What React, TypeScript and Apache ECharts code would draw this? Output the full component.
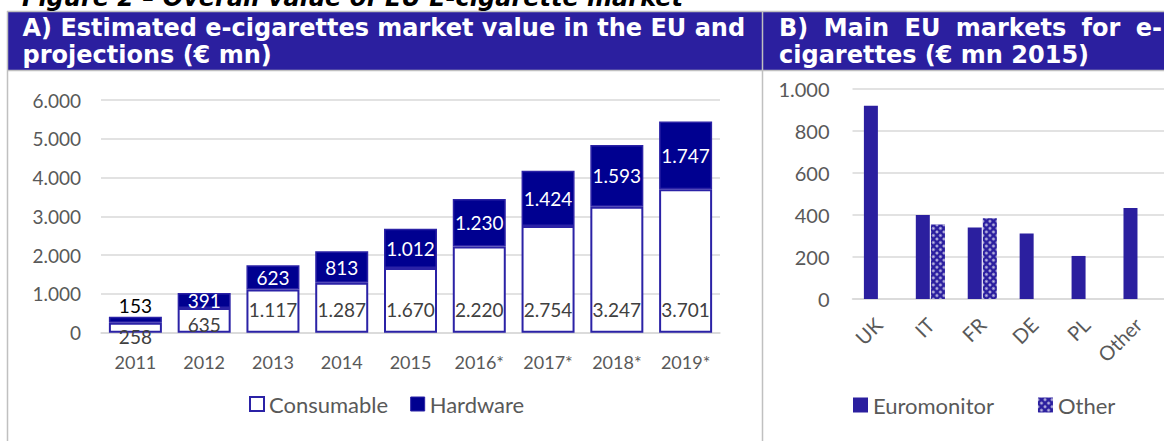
import React, { useEffect, useRef } from 'react';
import * as echarts from 'echarts';

const years = ['2011', '2012', '2013', '2014', '2015', '2016*', '2017*', '2018*', '2019*'];
const consumable = [258, 635, 1117, 1287, 1670, 2220, 2754, 3247, 3701];
const hardware = [153, 391, 623, 813, 1012, 1230, 1424, 1593, 1747];

const markets = ['UK', 'IT', 'FR', 'DE', 'PL', 'Other'];
const euromonitor = [920, 400, 340, 312, 205, 433];
const otherSource = [null, 355, 385, null, null, null];

const figureTitle = 'Figure 2 \u2013 Overall value of EU E-cigarette market';
const titleA = ['A) Estimated e-cigarettes market value in the EU and', 'projections (\u20ac mn)'];
const titleBLine1 = ['B)', 'Main', 'EU', 'markets', 'for', 'e-'];
const titleBLine2 = 'cigarettes (\u20ac mn 2015)';

const fmt = (v: number) => String(v).replace(/\B(?=(\d{3})+(?!\d))/g, '.');

export default function App() {
  const ref = useRef<HTMLDivElement>(null);
  useEffect(() => {
    const chart = echarts.init(ref.current!, null, { renderer: 'svg' });
    const font = 'Lato';
    const gray = '#595959';
    const band = '#2B1F9F';
    const navy = '#000090';
    const edge = '#2B22A6';
    const lineGray = '#C0C0C0';
    const titleFont = 'DejaVu Sans';
    const tf = `bold 24px "${titleFont}"`;

    // justify line 1 of title B between x=779 and x=1162
    const ctx = document.createElement('canvas').getContext('2d')!;
    ctx.font = tf;
    const widths = titleBLine1.map((w) => ctx.measureText(w).width);
    const total = widths.reduce((a, b) => a + b, 0);
    const startX = 779;
    const endX = 1162;
    const gap = (endX - startX - total) / (titleBLine1.length - 1);
    const bWordX: number[] = [];
    let cx = startX;
    widths.forEach((w) => {
      bWordX.push(cx);
      cx += w + gap;
    });

    const consumableData = consumable.map((v, i) => {
      if (i === 0) return { value: v, label: { position: 'bottom', distance: -6 } };
      if (i === 1) return { value: v, label: { distance: -1 } };
      return v;
    });
    const hardwareData = hardware.map((v, i) => {
      if (i === 0) return { value: v, label: { position: 'top', distance: 2, color: '#000' } };
      return v;
    });

    const option: any = {
      animation: false,
      backgroundColor: '#fff',
      textStyle: { fontFamily: font },
      graphic: [
        {
          type: 'text', x: 22, y: -2.5, z: 50,
          style: { text: figureTitle, fill: '#000', font: `italic bold 24px "${titleFont}"`, textAlign: 'left', textVerticalAlign: 'middle' },
        },
        { type: 'rect', z: 40, shape: { x: 8, y: 12, width: 1156, height: 58 }, style: { fill: band } },
        { type: 'line', z: 45, shape: { x1: 7, y1: 11.5, x2: 1164, y2: 11.5 }, style: { stroke: lineGray, lineWidth: 1.5 } },
        { type: 'line', z: 45, shape: { x1: 7, y1: 70.5, x2: 1164, y2: 70.5 }, style: { stroke: lineGray, lineWidth: 1.5 } },
        { type: 'line', z: 45, shape: { x1: 7.5, y1: 11, x2: 7.5, y2: 441 }, style: { stroke: lineGray, lineWidth: 1.5 } },
        { type: 'line', z: 45, shape: { x1: 762.5, y1: 11, x2: 762.5, y2: 441 }, style: { stroke: lineGray, lineWidth: 1.5 } },
        {
          type: 'text', x: 22.5, y: 27.5, z: 50,
          style: { text: titleA[0], fill: '#fff', font: tf, textAlign: 'left', textVerticalAlign: 'middle' },
        },
        {
          type: 'text', x: 22.5, y: 55, z: 50,
          style: { text: titleA[1], fill: '#fff', font: tf, textAlign: 'left', textVerticalAlign: 'middle' },
        },
        ...titleBLine1.map((w, i) => ({
          type: 'text', x: bWordX[i], y: 27.5, z: 50,
          style: { text: w, fill: '#fff', font: tf, textAlign: 'left', textVerticalAlign: 'middle' },
        })),
        {
          type: 'text', x: 779, y: 55, z: 50,
          style: { text: titleBLine2, fill: '#fff', font: tf, textAlign: 'left', textVerticalAlign: 'middle' },
        },
      ],
      legend: [
        {
          data: [
            { name: 'Consumable', itemStyle: { color: '#fff', borderColor: edge, borderWidth: 2 } },
            { name: 'Hardware', itemStyle: { color: navy, borderColor: edge, borderWidth: 1 } },
          ],
          left: 249, top: 393, padding: 0, itemWidth: 14, itemHeight: 14, itemGap: 22, icon: 'rect',
          textStyle: { fontFamily: font, fontSize: 22, color: gray },
        },
        {
          data: ['Euromonitor', 'Other'],
          left: 853, top: 394, padding: 0, itemWidth: 15, itemHeight: 15, itemGap: 44, icon: 'rect',
          textStyle: { fontFamily: font, fontSize: 22, color: gray },
        },
      ],
      grid: [
        { left: 101, right: 444, top: 100, bottom: 108.3, containLabel: false },
        { left: 852.5, right: -13, top: 89, bottom: 142, containLabel: false },
      ],
      xAxis: [
        {
          type: 'category', gridIndex: 0, data: years,
          axisLine: { lineStyle: { color: '#D9D9D9', width: 1.5 } },
          axisTick: { show: false },
          axisLabel: { color: gray, fontSize: 18, fontFamily: font, margin: 20 },
        },
        {
          type: 'category', gridIndex: 1, data: markets,
          axisLine: { lineStyle: { color: '#D9D9D9', width: 1.5 } },
          axisTick: { show: false },
          axisLabel: { color: gray, fontSize: 20, fontFamily: font, margin: 22, rotate: 45, interval: 0 },
        },
      ],
      yAxis: [
        {
          type: 'value', gridIndex: 0, min: 0, max: 6000, interval: 1000,
          axisLine: { show: false }, axisTick: { show: false },
          splitLine: { lineStyle: { color: '#D9D9D9', width: 1.5 } },
          axisLabel: { color: gray, fontSize: 19, fontFamily: font, margin: 20, formatter: (v: number) => fmt(v) },
        },
        {
          type: 'value', gridIndex: 1, min: 0, max: 1000, interval: 200,
          axisLine: { show: false }, axisTick: { show: false },
          splitLine: { lineStyle: { color: '#D9D9D9', width: 1.5 } },
          axisLabel: { color: gray, fontSize: 20, fontFamily: font, margin: 23, formatter: (v: number) => fmt(v) },
        },
      ],
      series: [
        {
          name: 'Consumable', type: 'bar', stack: 'total', xAxisIndex: 0, yAxisIndex: 0,
          data: consumableData, barWidth: 53,
          itemStyle: { color: '#fff', borderColor: edge, borderWidth: 2 },
          label: {
            show: true, position: 'insideBottom', distance: 14, color: '#404040', fontSize: 19, fontFamily: font,
            formatter: (p: any) => fmt(p.value),
          },
        },
        {
          name: 'Hardware', type: 'bar', stack: 'total', xAxisIndex: 0, yAxisIndex: 0,
          data: hardwareData, barWidth: 53,
          itemStyle: { color: navy, borderColor: edge, borderWidth: 1.5 },
          label: {
            show: true, position: 'inside', color: '#fff', fontSize: 19, fontFamily: font,
            formatter: (p: any) => fmt(p.value),
          },
        },
        {
          name: 'Euromonitor', type: 'bar', xAxisIndex: 1, yAxisIndex: 1,
          data: euromonitor, barWidth: 14, barGap: '8%',
          itemStyle: { color: band },
        },
        {
          name: 'Other', type: 'bar', xAxisIndex: 1, yAxisIndex: 1,
          data: otherSource, barWidth: 14, barGap: '8%',
          itemStyle: {
            color: band,
            decal: {
              symbol: 'circle', symbolSize: 0.9, color: 'rgba(255,255,255,0.75)',
              dashArrayX: [3, 2], dashArrayY: [3, 2], rotation: Math.PI / 4,
            },
          },
        },
      ],
    };
    chart.setOption(option);
    return () => chart.dispose();
  }, []);
  return (
    <div
      ref={ref}
      style={{ position: 'fixed', left: 0, top: 0, width: 1164, height: 441, background: '#fff' }}
    />
  );
}
